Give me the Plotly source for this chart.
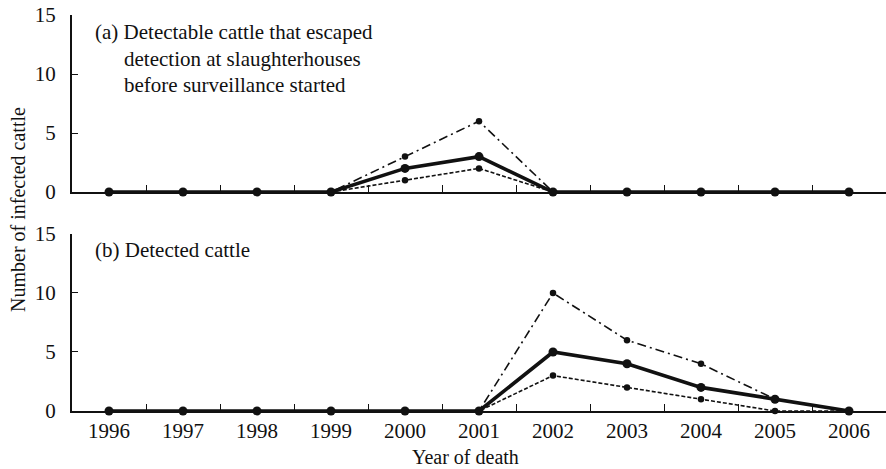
import plotly.graph_objects as go

years = list(range(1996, 2007))

# (a) detectable cattle that escaped detection before surveillance started
a_mid = [0, 0, 0, 0, 2, 3, 0, 0, 0, 0, 0]
a_upper = [0, 0, 0, 0, 3, 6, 0, 0, 0, 0, 0]
a_lower = [0, 0, 0, 0, 1, 2, 0, 0, 0, 0, 0]

# (b) detected cattle
b_mid = [0, 0, 0, 0, 0, 0, 5, 4, 2, 1, 0]
b_upper = [0, 0, 0, 0, 0, 0, 10, 6, 4, 1, 0]
b_lower = [0, 0, 0, 0, 0, 0, 3, 2, 1, 0, 0]

y_ticks = [0, 5, 10, 15]
FONT = "Liberation Serif"
FS = 21
INK = "#111111"

fig = go.Figure()


def add_panel(fig, xa, ya, mid, upper, lower):
    fig.add_trace(go.Scatter(x=years, y=upper, xaxis=xa, yaxis=ya, mode="lines+markers",
                             line=dict(color=INK, width=1.6, dash="9px,4px,2px,4px"),
                             marker=dict(size=6.5, color=INK), cliponaxis=False, showlegend=False))
    fig.add_trace(go.Scatter(x=years, y=lower, xaxis=xa, yaxis=ya, mode="lines+markers",
                             line=dict(color=INK, width=1.6, dash="4px,2px"),
                             marker=dict(size=6.5, color=INK), cliponaxis=False, showlegend=False))
    fig.add_trace(go.Scatter(x=years, y=mid, xaxis=xa, yaxis=ya, mode="lines+markers",
                             line=dict(color=INK, width=3.6),
                             marker=dict(size=9, color=INK), cliponaxis=False, showlegend=False))


add_panel(fig, "x", "y", a_mid, a_upper, a_lower)
add_panel(fig, "x2", "y2", b_mid, b_upper, b_lower)

xcommon = dict(range=[1995.5, 2006.5], showline=True, linecolor=INK, linewidth=2,
               showgrid=False, zeroline=False, ticks="",
               tickvals=years, ticktext=[str(y) for y in years],
               minor=dict(tickvals=[y + 0.5 for y in years], ticks="inside",
                          ticklen=7, tickcolor=INK, tickwidth=1.4),
               tickfont=dict(family=FONT, size=FS, color=INK))
ycommon = dict(range=[0, 15], showline=True, linecolor=INK, linewidth=2,
               showgrid=False, zeroline=False, tickvals=y_ticks,
               ticks="inside", ticklen=6, tickcolor=INK, tickwidth=1.4,
               ticklabelstandoff=10,
               tickfont=dict(family=FONT, size=FS, color=INK))

fig.update_layout(
    width=886, height=469,
    margin=dict(l=72, r=0, t=15, b=58),
    paper_bgcolor="white", plot_bgcolor="white",
    xaxis=dict(**xcommon, domain=[0, 1], anchor="y", showticklabels=False),
    yaxis=dict(**ycommon, domain=[0.553, 1.0], anchor="x"),
    xaxis2=dict(**xcommon, domain=[0, 1], anchor="y2"),
    yaxis2=dict(**ycommon, domain=[0, 0.447], anchor="x2"),
)


def px_x(px):
    return (px - 72) / 814


def px_y(py):
    return (411 - py) / 396


labels = [
    ("(a) Detectable cattle that escaped", 93, 32),
    ("detection at slaughterhouses", 122, 59),
    ("before surveillance started", 122, 85),
    ("(b) Detected cattle", 93, 250),
]
for text, lx, ly in labels:
    fig.add_annotation(text=text, xref="paper", yref="paper", x=px_x(lx), y=px_y(ly),
                       xanchor="left", yanchor="middle", showarrow=False,
                       font=dict(family=FONT, size=FS, color=INK))

fig.add_annotation(text="Number of infected cattle", xref="paper", yref="paper",
                   x=px_x(18), y=px_y(210), xanchor="center", yanchor="middle",
                   textangle=-90, showarrow=False,
                   font=dict(family=FONT, size=20, color=INK))
fig.add_annotation(text="Year of death", xref="paper", yref="paper",
                   x=px_x(465), y=px_y(457), xanchor="center", yanchor="middle",
                   showarrow=False, font=dict(family=FONT, size=20, color=INK))

fig.write_html("out.html")
